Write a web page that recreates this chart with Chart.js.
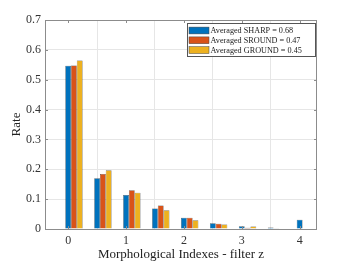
<!DOCTYPE html>
<html>
<head>
<meta charset="utf-8">
<script src="https://cdn.jsdelivr.net/npm/chart.js@4"></script>
<style>
  html, body { margin: 0; padding: 0; background: #fff; }
  #wrap { width: 349px; height: 262px; }
</style>
</head>
<body>
<div id="wrap"><canvas id="c" width="349" height="262"></canvas></div>
<script>
// group centres along the x axis (blue bar sits on the integer/half mark, the others step right)
const groupCenters = [0.1, 0.6, 1.1, 1.6, 2.1, 2.6, 3.1, 3.6, 4.1];
const seriesNames = ['Averaged SHARP = 0.68', 'Averaged SROUND = 0.47', 'Averaged GROUND = 0.45'];
const sharp  = [0.547, 0.170, 0.114, 0.069, 0.038, 0.019, 0.009, 0.005, 0.031];
const sround = [0.548, 0.184, 0.130, 0.079, 0.038, 0.018, 0.004, 0.001, 0.000];
const ground = [0.564, 0.197, 0.121, 0.063, 0.029, 0.015, 0.008, 0.002, 0.002];
const colors = ['#0072BD', '#D95319', '#EDB120'];

const serif = '"Liberation Serif", "DejaVu Serif", serif';

function toPoints(vals) {
  return groupCenters.map((x, i) => ({ x: x, y: vals[i] }));
}

// box round the axes, small inward ticks, and the legend box (matlab style)
const boxPlugin = {
  id: 'box',
  afterDraw(chart) {
    const { ctx, chartArea: a, scales } = chart;
    ctx.save();
    ctx.strokeStyle = '#8c8c8c';
    ctx.lineWidth = 1;
    ctx.strokeRect(a.left + 0.5, a.top + 0.5, a.right - a.left - 1, a.bottom - a.top);
    ctx.beginPath();
    scales.y.ticks.forEach(t => {
      const y = Math.round(scales.y.getPixelForValue(t.value)) + 0.5;
      ctx.moveTo(a.left, y); ctx.lineTo(a.left + 3, y);
      ctx.moveTo(a.right, y); ctx.lineTo(a.right - 3, y);
    });
    scales.x.ticks.forEach(t => {
      const x = Math.round(scales.x.getPixelForValue(t.value)) + 0.5;
      ctx.moveTo(x, a.bottom); ctx.lineTo(x, a.bottom - 3);
      ctx.moveTo(x, a.top); ctx.lineTo(x, a.top + 3);
    });
    ctx.stroke();

    // legend
    const w = 128, h = 33;
    const lx = a.right - w - 2, ly = a.top + 3;
    ctx.fillStyle = '#fff';
    ctx.fillRect(lx, ly, w, h);
    ctx.strokeStyle = '#555';
    ctx.strokeRect(lx + 0.5, ly + 0.5, w, h);
    ctx.font = '8.2px ' + serif;
    ctx.textBaseline = 'middle';
    chart.data.datasets.forEach((ds, i) => {
      const cy = ly + 7.5 + i * 9.8;
      ctx.fillStyle = ds.backgroundColor;
      ctx.fillRect(lx + 2, cy - 3.4, 20, 6.8);
      ctx.strokeStyle = '#444';
      ctx.lineWidth = 0.5;
      ctx.strokeRect(lx + 2, cy - 3.4, 20, 6.8);
      ctx.fillStyle = '#222';
      ctx.fillText(ds.label, lx + 23.5, cy + 0.5);
    });
    ctx.restore();
  }
};

new Chart(document.getElementById('c'), {
  type: 'bar',
  data: {
    datasets: [sharp, sround, ground].map((vals, i) => ({
      label: seriesNames[i],
      data: toPoints(vals),
      backgroundColor: colors[i],
      borderColor: '#3a3a3a',
      borderWidth: 0.5,
      categoryPercentage: 0.6,
      barPercentage: 1.0
    }))
  },
  options: {
    responsive: false,
    animation: false,
    layout: { padding: { left: 0, right: 32, top: 20, bottom: 0 } },
    plugins: { legend: { display: false }, tooltip: { enabled: false } },
    scales: {
      x: {
        type: 'linear',
        min: -0.4,
        max: 4.3,
        offset: false,
        afterFit(s) { s.height = 33; },
        ticks: {
          stepSize: 1,
          includeBounds: false,
          color: '#333',
          padding: 5,
          font: { family: serif, size: 12 }
        },
        grid: { color: '#e6e6e6', drawTicks: false },
        border: { display: false },
        title: {
          display: true,
          text: 'Morphological Indexes - filter z',
          color: '#222',
          padding: { top: 0, bottom: 0 },
          font: { family: serif, size: 13 }
        }
      },
      y: {
        min: 0,
        max: 0.7,
        afterFit(s) { s.width = 45; },
        ticks: {
          stepSize: 0.1,
          color: '#333',
          padding: 4,
          font: { family: serif, size: 12 }
        },
        grid: { color: '#e6e6e6', drawTicks: false },
        border: { display: false },
        title: {
          display: true,
          text: 'Rate',
          color: '#222',
          padding: { top: 9, bottom: 0 },
          font: { family: serif, size: 13 }
        }
      }
    }
  },
  plugins: [boxPlugin]
});
</script>
</body>
</html>
